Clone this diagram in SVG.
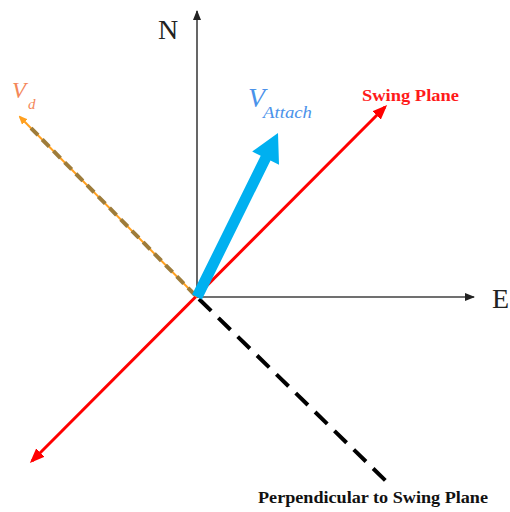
<svg xmlns="http://www.w3.org/2000/svg" width="510" height="512" viewBox="0 0 510 512">
<style>
.axis{stroke:#404040;stroke-width:1.6;fill:none}
.lbl{font-family:"Liberation Serif","Times New Roman",serif;fill:#222}
.bold{font-family:"Liberation Serif","Times New Roman",serif;font-weight:bold}
.it{font-family:"Liberation Serif","Times New Roman",serif;font-style:italic}
</style>
<defs>
<marker id="ahAxis" markerUnits="userSpaceOnUse" viewBox="0 0 10 8" refX="9" refY="4" markerWidth="10" markerHeight="8" orient="auto">
<path d="M0,0 L10,4 L0,8 z" fill="#222"/>
</marker>
<marker id="ahRed" markerUnits="userSpaceOnUse" viewBox="0 0 15 12" refX="12" refY="6" markerWidth="15" markerHeight="12" orient="auto-start-reverse">
<path d="M0,0 L15,6 L0,12 z" fill="#ff0000"/>
</marker>
<marker id="ahOrange" markerUnits="userSpaceOnUse" viewBox="0 0 9 8" refX="7" refY="4" markerWidth="9" markerHeight="8" orient="auto">
<path d="M0,0 L9,4 L0,8 z" fill="#ffa020"/>
</marker>
</defs>
<rect width="510" height="512" fill="#ffffff"/>
<g id="connectors">
<line id="axis-n" class="axis" x1="197" y1="297" x2="197" y2="11" marker-end="url(#ahAxis)"/>
<line id="axis-e" class="axis" x1="197" y1="297" x2="474" y2="297" marker-end="url(#ahAxis)"/>
<line id="swing-plane" x1="32" y1="461" x2="385" y2="107" stroke="#ff0000" stroke-width="3" marker-start="url(#ahRed)" marker-end="url(#ahRed)"/>
<line id="perp" x1="199" y1="299" x2="388" y2="483" stroke="#000" stroke-width="4" stroke-dasharray="17 10"/>
<line id="vd-line" x1="197" y1="297" x2="20" y2="117" stroke="#ffa020" stroke-width="2" marker-end="url(#ahOrange)"/>
<line id="vd-dash" x1="195" y1="295" x2="28" y2="125" stroke="#9e7c3a" stroke-width="4" stroke-dasharray="10 6"/>
<polygon id="v-attach-arrow" points="192.1,294.6 260.7,155.7 252.2,151.5 278,133 279,164.7 270.5,160.5 201.9,299.4" fill="#00b0f0"/>
</g>
<g id="node-n"><text class="lbl" x="158" y="39" font-size="28">N</text></g>
<g id="node-e"><text class="lbl" x="492" y="308" font-size="28">E</text></g>
<g id="node-swing"><text class="bold" x="362" y="101" font-size="17" fill="#ff1a1a" textLength="97" lengthAdjust="spacingAndGlyphs">Swing Plane</text></g>
<g id="node-perp"><text class="bold" x="258" y="503" font-size="17" fill="#111" textLength="230" lengthAdjust="spacingAndGlyphs">Perpendicular to Swing Plane</text></g>
<g id="node-vattach">
<text class="it" x="248" y="107" font-size="28" fill="#4a92ea">V</text>
<text class="it" x="263" y="118" font-size="17" fill="#4a92ea" textLength="49" lengthAdjust="spacingAndGlyphs">Attach</text>
</g>
<g id="node-vd">
<text class="it" x="12" y="98" font-size="23" fill="#f4875a">V</text>
<text class="it" x="28" y="109" font-size="15" fill="#f4875a">d</text>
</g>
</svg>
